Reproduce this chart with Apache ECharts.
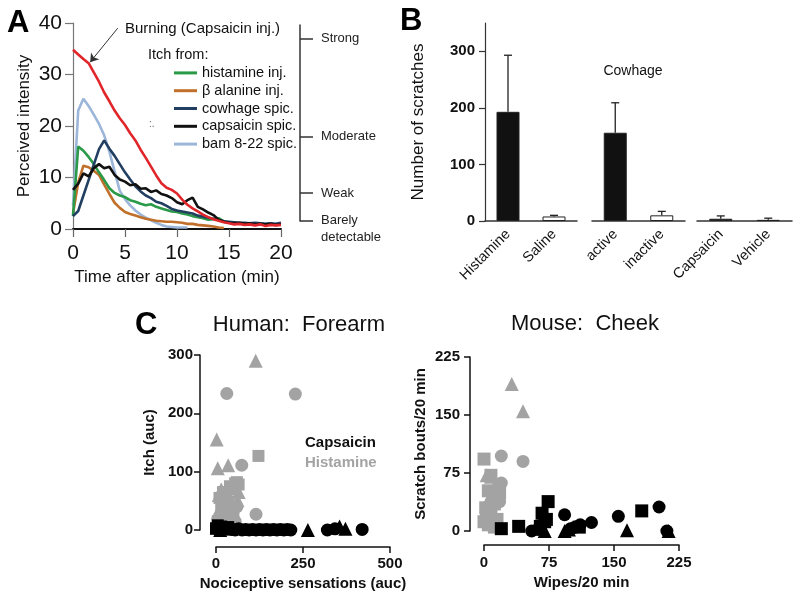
<!DOCTYPE html>
<html>
<head>
<meta charset="utf-8">
<script src="https://cdn.jsdelivr.net/npm/echarts@6/dist/echarts.min.js"></script>
<style>html,body{margin:0;padding:0;background:#fff}#c{width:800px;height:599px}</style>
</head>
<body>
<div id="c"></div>
<script>
// ---------- Panel A data ----------
const timeA = [0,0.5,1,1.5,2,2.5,3,3.5,4,4.5,5,5.5,6,6.5,7,7.5,8,8.5,9,9.5,10,10.5,11,11.5,12,12.5,13,13.5,14,14.5,15,15.5,16,16.5,17,17.5,18,18.5,19,19.5,20];
const burningCapsInj = [34.8,33.9,33.0,32.2,30.4,28.6,26.5,24.8,23.0,21.5,20.2,18.6,17.2,15.4,13.8,12.1,10.4,8.9,8.0,7.6,6.9,5.7,4.7,4.0,3.4,2.8,2.3,1.9,1.6,1.3,1.1,0.9,1.0,0.8,0.9,0.7,0.9,0.6,0.8,0.7,0.8];
const histamineInj = [2.5,16.0,15.2,14.0,12.6,11.0,9.5,7.9,7.0,6.5,6.2,5.6,5.3,4.9,4.6,4.8,4.3,4.0,3.7,3.4,3.3,3.0,2.8,2.5,2.3,2.1,1.8,1.9,2.1,1.5,1.2,null,null,null,null,null,null,null,null,null,null];
const alanineInj = [3.0,9.0,12.3,12.0,11.3,10.5,8.6,6.8,5.1,4.1,3.3,2.9,2.6,2.3,2.0,1.8,1.6,1.5,1.4,1.4,1.3,1.2,1.0,1.0,0.8,0.7,0.6,0.5,0.3,0.2,null,null,null,null,null,null,null,null,null,null,null];
const cowhageSpic = [2.5,3.5,6.5,9.5,12.5,15.5,17.2,15.6,14.2,12.6,11.0,9.6,8.3,7.3,6.5,6.0,5.3,5.0,4.5,3.9,3.6,3.4,3.2,3.0,2.6,2.4,2.2,2.0,1.8,1.5,1.4,1.3,1.2,1.2,1.1,1.2,1.1,1.0,1.1,1.0,1.2];
const capsaicinSpic = [7.6,8.8,10.8,10.2,11.8,12.6,11.8,12.1,10.5,9.6,9.2,8.5,8.7,7.8,7.9,7.2,7.5,6.8,6.5,6.0,5.2,4.8,5.6,6.1,4.3,3.8,3.2,2.7,1.8,1.4,1.2,1.1,1.2,1.0,1.1,0.9,1.0,0.9,1.0,0.8,0.9];
const bamSpic = [4.5,23.0,25.3,23.9,22.2,20.4,18.2,15.0,11.2,7.4,5.8,4.6,3.6,2.8,2.2,1.7,1.2,0.8,0.5,0.4,0.3,0.3,0.3,null,null,null,null,null,null,null,null,null,null,null,null,null,null,null,null,null,null];
const lmsLabels = ['Barely detectable','Weak','Moderate','Strong'];
const lmsValues = [1.6, 7.0, 17.9, 36.9];
const burningArrow = [[4.3, 39.0], [1.65, 32.4]];

// ---------- Panel B data ----------
const bGroup1 = ['Histamine','Saline'];
const bGroup2 = ['active','inactive'];
const bGroup3 = ['Capsaicin','Vehicle'];
const bMean1 = [193, 8];
const bErr1 = [100, 2];
const bMean2 = [156, 10];
const bErr2 = [53, 7];
const bMean3 = [4, 2];
const bErr3 = [5, 3];
const bTicks = [0, 100, 200, 300];

// ---------- Panel C data ----------
const humanHistCircle = [[31,234],[228,233],[74,111],[115,27],[40,30],[55,15],[20,45],[10,20],[60,40]];
const humanHistTriangle = [[114,290],[2,155],[5,106],[35,111],[62,51],[65,65],[8,60],[15,70],[25,40],[5,30],[45,50],[30,20],[20,5]];
const humanHistSquare = [[122,127],[55,80],[60,82],[65,78],[40,75],[48,70],[20,65],[10,55],[25,50],[15,35],[35,30],[50,25],[5,15],[20,10],[45,35],[30,60]];
const humanCapsCircle = [[20,2],[45,1],[55,0],[65,2],[75,0],[85,1],[95,0],[105,1],[115,0],[125,1],[135,0],[145,1],[155,0],[165,1],[175,0],[185,1],[195,0],[205,1],[215,0],[320,0],[342,2],[420,1]];
const humanCapsSquare = [[0,3],[5,8],[10,2],[15,6],[20,1],[25,4],[30,2],[35,5],[45,1]];
const humanCapsTriangle = [[264,0],[355,6],[372,2],[2,4],[12,0]];
const mouseHistTriangle = [[32,190],[45,155],[3,72],[8,70],[5,40],[10,25]];
const mouseHistCircle = [[20,97],[45,90],[20,62],[15,55],[10,45],[18,38]];
const mouseHistSquare = [[0,93],[8,72],[18,49],[5,52],[12,35],[2,30],[8,20],[0,12],[5,8],[12,5],[3,25],[15,15]];
const mouseCapsSquare = [[20,3],[40,6],[65,6],[67,23],[74,38],[70,12],[182,26],[110,5],[72,15]];
const mouseCapsCircle = [[55,0],[93,21],[111,8],[124,11],[155,19],[202,31],[211,0],[100,3],[105,5],[62,2]];
const mouseCapsTriangle = [[93,0],[165,1],[213,0],[98,2],[70,0]];

// ---------- build ----------
const FONT = '"Liberation Sans", Arial, sans-serif';
const pairs = (vals) => vals.map((v, i) => [timeA[i], v]);
const GRAY = '#a3a3a3';
const lmsName = (v) => {
  let idx = 0, best = 1e9;
  lmsValues.forEach((x, i) => { if (Math.abs(x - v) < best) { best = Math.abs(x - v); idx = i; } });
  return lmsLabels[idx];
};

function lineSeries(name, vals, color, extra) {
  return Object.assign({
    name: name, type: 'line', xAxisIndex: 0, yAxisIndex: 0,
    data: pairs(vals), showSymbol: false, symbol: 'none',
    lineStyle: { color: color, width: 2.6 }, itemStyle: { color: color },
    connectNulls: false, animation: false
  }, extra || {});
}

function barSeries(gi, means, fills) {
  return {
    type: 'bar', xAxisIndex: gi, yAxisIndex: gi, barWidth: 23, animation: false,
    data: means.map((m, i) => ({ value: m, itemStyle: { color: fills[i], borderColor: '#222', borderWidth: 1 } }))
  };
}
function errSeries(gi, means, errs) {
  return {
    type: 'custom', xAxisIndex: gi, yAxisIndex: gi, animation: false, z: 5,
    data: means.map((m, i) => [i, m, errs[i]]),
    encode: { x: 0, y: 1 },
    renderItem: function (params, api) {
      const p0 = api.coord([api.value(0), api.value(1)]);
      const p1 = api.coord([api.value(0), api.value(1) + api.value(2)]);
      const st = { stroke: '#222', lineWidth: 1.3 };
      return { type: 'group', children: [
        { type: 'line', shape: { x1: p0[0], y1: p0[1], x2: p1[0], y2: p1[1] }, style: st },
        { type: 'line', shape: { x1: p1[0] - 4, y1: p1[1], x2: p1[0] + 4, y2: p1[1] }, style: st }
      ]};
    }
  };
}
function scatter(gi, data, symbol, size, color) {
  return { type: 'scatter', xAxisIndex: gi, yAxisIndex: gi, data: data, symbol: symbol, symbolSize: size,
    itemStyle: { color: color, opacity: 1 }, animation: false };
}

const cAxisBase = {
  axisLine: { show: true, onZero: false, lineStyle: { color: '#111', width: 1.5 } },
  axisTick: { show: true, length: 6, lineStyle: { color: '#111', width: 1.5 } },
  axisLabel: { fontFamily: FONT, fontSize: 15, fontWeight: 'bold', color: '#111' },
  splitLine: { show: false },
  nameTextStyle: { fontFamily: FONT, fontSize: 15, fontWeight: 'bold', color: '#111' },
  nameLocation: 'middle'
};
function merge(a, b) { return Object.assign({}, a, b); }

const bCatAxis = (gi, cats) => ({
  gridIndex: gi, type: 'category', data: cats,
  axisLine: { show: true, lineStyle: { color: '#333', width: 1.5 } },
  axisTick: { show: false },
  axisLabel: { rotate: 45, interval: 0, margin: 11, fontFamily: FONT, fontSize: 14.5, color: '#111' }
});
const bHiddenY = (gi) => ({ gridIndex: gi, type: 'value', min: 0, max: 350, show: false, splitLine: { show: false } });

const option = {
  backgroundColor: '#fff',
  animation: false,
  textStyle: { fontFamily: FONT },
  grid: [
    { left: 73, top: 23, width: 208, height: 206 },
    { left: 300, top: 25, width: 1, height: 196 },
    { left: 485, top: 23, width: 92, height: 198 },
    { left: 592, top: 23, width: 93, height: 198 },
    { left: 697, top: 23, width: 95, height: 198 },
    { left: 216, top: 355, width: 174, height: 175 },
    { left: 484, top: 357, width: 195, height: 174 }
  ],
  legend: {
    orient: 'vertical', left: 169, top: 59, icon: 'rect', itemWidth: 23, itemHeight: 3, itemGap: 0,
    textStyle: { fontFamily: FONT, fontSize: 14.5, color: '#111', lineHeight: 17.8 },
    data: ['histamine inj.', 'β alanine inj.', 'cowhage spic.', 'capsaicin spic.', 'bam 8-22 spic.']
  },
  xAxis: [
    { gridIndex: 0, type: 'value', min: 0, max: 20, interval: 5,
      axisLine: { show: true, lineStyle: { color: '#111', width: 2 } },
      axisTick: { show: true, length: 8, lineStyle: { color: '#666', width: 1.2 } },
      axisLabel: { fontFamily: FONT, fontSize: 21, color: '#111', margin: 14 },
      splitLine: { show: false },
      name: 'Time after application (min)', nameLocation: 'middle', nameGap: 40,
      nameTextStyle: { fontFamily: FONT, fontSize: 17, color: '#111' } },
    { gridIndex: 1, type: 'value', show: false, min: 0, max: 1 },
    bCatAxis(2, bGroup1), bCatAxis(3, bGroup2), bCatAxis(4, bGroup3),
    merge(cAxisBase, { gridIndex: 5, type: 'value', min: 0, max: 500, interval: 250, offset: 17,
      axisLabel: merge(cAxisBase.axisLabel, { margin: 9 }),
      name: 'Nociceptive sensations (auc)', nameGap: 29 }),
    merge(cAxisBase, { gridIndex: 6, type: 'value', min: 0, max: 225, interval: 75, offset: 14,
      axisLabel: merge(cAxisBase.axisLabel, { margin: 10 }),
      name: 'Wipes/20 min', nameGap: 30 })
  ],
  yAxis: [
    { gridIndex: 0, type: 'value', min: 0, max: 40, interval: 10,
      axisLine: { show: true, lineStyle: { color: '#777', width: 1.2 } },
      axisTick: { show: true, length: 8, lineStyle: { color: '#777', width: 1.2 } },
      axisLabel: { fontFamily: FONT, fontSize: 21, color: '#111', margin: 11 },
      splitLine: { show: false },
      name: 'Perceived intensity', nameLocation: 'middle', nameGap: 40,
      nameTextStyle: { fontFamily: FONT, fontSize: 17, color: '#111' } },
    // labelled-magnitude scale: line, ticks and single-line labels
    { gridIndex: 1, type: 'value', min: 1.55, max: 39.6, position: 'right',
      axisLine: { show: true, lineStyle: { color: '#333', width: 1.5 } },
      axisTick: { show: true, length: 13, customValues: lmsValues, lineStyle: { color: '#333', width: 1.5 } },
      axisLabel: { customValues: lmsValues.slice(1), showMinLabel: true, showMaxLabel: true,
        margin: 20, fontFamily: FONT, fontSize: 13, color: '#222', formatter: lmsName },
      splitLine: { show: false } },
    { gridIndex: 2, type: 'value', min: 0, max: 350,
      axisLine: { show: true, lineStyle: { color: '#333', width: 1.2 } },
      axisTick: { show: true, length: 6, customValues: bTicks, lineStyle: { color: '#333', width: 1.2 } },
      axisLabel: { customValues: bTicks, margin: 10, fontFamily: FONT, fontSize: 15, fontWeight: 'bold', color: '#111' },
      splitLine: { show: false },
      name: 'Number of scratches', nameLocation: 'middle', nameGap: 58,
      nameTextStyle: { fontFamily: FONT, fontSize: 17, color: '#111' } },
    bHiddenY(3), bHiddenY(4),
    merge(cAxisBase, { gridIndex: 5, type: 'value', min: 0, max: 300, interval: 100, offset: 16,
      axisLabel: merge(cAxisBase.axisLabel, { margin: 7 }),
      name: 'Itch (auc)', nameGap: 43 }),
    merge(cAxisBase, { gridIndex: 6, type: 'value', min: 0, max: 225, interval: 75, offset: 14,
      axisLabel: merge(cAxisBase.axisLabel, { margin: 10 }),
      name: 'Scratch bouts/20 min', nameGap: 42 }),
    // labelled-magnitude scale: two-line bottom label, hung below its tick
    { gridIndex: 1, type: 'value', min: 1.55, max: 39.6, position: 'right',
      axisLine: { show: false }, axisTick: { show: false },
      axisLabel: { customValues: lmsValues.slice(0, 1), showMinLabel: true,
        margin: 20, fontFamily: FONT, fontSize: 13, color: '#222', lineHeight: 17,
        formatter: (v) => ' \n' + lmsName(v).replace(' ', '\n') },
      splitLine: { show: false } }
  ],
  series: [
    lineSeries('bam 8-22 spic.', bamSpic, '#9bb6d9'),
    lineSeries('β alanine inj.', alanineInj, '#c0702a'),
    lineSeries('histamine inj.', histamineInj, '#2a9a48'),
    lineSeries('cowhage spic.', cowhageSpic, '#223f62'),
    lineSeries('capsaicin spic.', capsaicinSpic, '#111111'),
    lineSeries('Burning (Capsaicin inj.)', burningCapsInj, '#e0262a', {
      markLine: { silent: true, symbol: ['none', 'arrow'], symbolSize: 8, animation: false,
        lineStyle: { color: '#333', width: 1, type: 'solid' }, label: { show: false },
        data: [[{ coord: burningArrow[0] }, { coord: burningArrow[1] }]] } }),
    barSeries(2, bMean1, ['#111', '#fff']), errSeries(2, bMean1, bErr1),
    barSeries(3, bMean2, ['#111', '#fff']), errSeries(3, bMean2, bErr2),
    barSeries(4, bMean3, ['#111', '#fff']), errSeries(4, bMean3, bErr3),
    scatter(5, humanHistSquare, 'rect', 12, GRAY),
    scatter(5, humanHistTriangle, 'triangle', 14, GRAY),
    scatter(5, humanHistCircle, 'circle', 13, GRAY),
    scatter(5, humanCapsCircle, 'circle', 13, '#000'),
    scatter(5, humanCapsSquare, 'rect', 12, '#000'),
    scatter(5, humanCapsTriangle, 'triangle', 14, '#000'),
    scatter(6, mouseHistSquare, 'rect', 13, GRAY),
    scatter(6, mouseHistTriangle, 'triangle', 14, GRAY),
    scatter(6, mouseHistCircle, 'circle', 13, GRAY),
    scatter(6, mouseCapsCircle, 'circle', 13, '#000'),
    scatter(6, mouseCapsSquare, 'rect', 13, '#000'),
    scatter(6, mouseCapsTriangle, 'triangle', 14, '#000')
  ],
  graphic: [
    { type: 'text', left: 7, top: 8, style: { text: 'A', font: 'bold 31px ' + FONT, fill: '#000' } },
    { type: 'text', left: 400, top: 6, style: { text: 'B', font: 'bold 31px ' + FONT, fill: '#000' } },
    { type: 'text', left: 135, top: 310, style: { text: 'C', font: 'bold 31px ' + FONT, fill: '#000' } },
    { type: 'text', x: 125, y: 29, style: { text: 'Burning (Capsaicin inj.)', font: '15px ' + FONT, fill: '#111', verticalAlign: 'middle' } },
    { type: 'text', x: 148, y: 55, style: { text: 'Itch from:', font: '14.5px ' + FONT, fill: '#111', verticalAlign: 'middle' } },
    { type: 'text', x: 149, y: 124, style: { text: ':.', font: '10px ' + FONT, fill: '#666', verticalAlign: 'middle' } },
    { type: 'text', x: 633, y: 71, style: { text: 'Cowhage', font: '14px ' + FONT, fill: '#111', align: 'center', verticalAlign: 'middle' } },
    { type: 'text', x: 299, y: 325, style: { text: 'Human:  Forearm', font: '22px ' + FONT, fill: '#111', align: 'center', verticalAlign: 'middle' } },
    { type: 'text', x: 585, y: 324, style: { text: 'Mouse:  Cheek', font: '22px ' + FONT, fill: '#111', align: 'center', verticalAlign: 'middle' } },
    { type: 'text', x: 305, y: 443, style: { text: 'Capsaicin', font: 'bold 15px ' + FONT, fill: '#111', verticalAlign: 'middle' } },
    { type: 'text', x: 305, y: 463, style: { text: 'Histamine', font: 'bold 15px ' + FONT, fill: '#a3a3a3', verticalAlign: 'middle' } }
  ]
};
const chart = echarts.init(document.getElementById('c'), null, { renderer: 'canvas' });
chart.setOption(option);
</script>
</body>
</html>
